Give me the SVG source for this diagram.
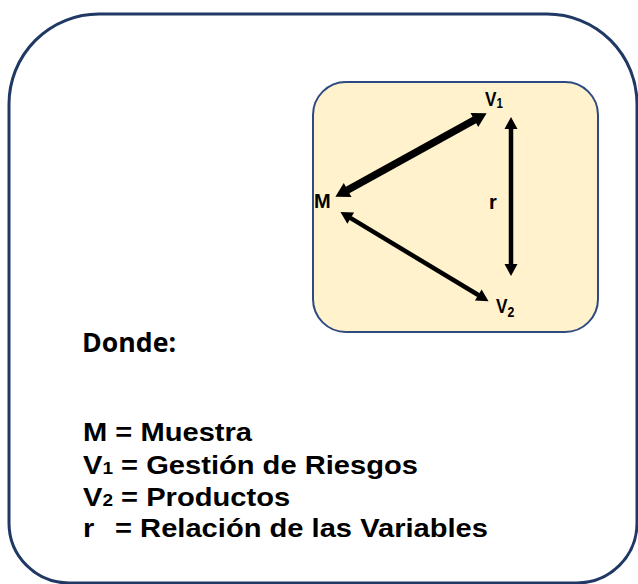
<svg xmlns="http://www.w3.org/2000/svg" width="638" height="584" viewBox="0 0 638 584">
<style>
  .frame { fill: #ffffff; stroke: #1f3864; stroke-width: 3; }
  .panel { fill: #fff2cc; stroke: #2f4a7f; stroke-width: 2; }
  .lbl { font-family: "Liberation Sans", Arial, sans-serif; font-weight: bold; fill: #000; }
  .leg { font-family: "Liberation Sans", Arial, sans-serif; font-weight: bold; font-size: 26px; fill: #000; }
  .donde { font-family: "Open Sans", "Liberation Sans", sans-serif; font-weight: bold; font-size: 27px; fill: #000; }
  .conn { stroke: #000; fill: none; }
</style>
<defs>
  <marker id="headL" markerUnits="userSpaceOnUse" markerWidth="15" markerHeight="16" refX="0.5" refY="8" orient="auto-start-reverse" overflow="visible">
    <path d="M0,0 L14,8 L0,16 Z" fill="#000"/>
  </marker>
  <marker id="headS" markerUnits="userSpaceOnUse" markerWidth="13" markerHeight="13" refX="0.5" refY="6.5" orient="auto-start-reverse" overflow="visible">
    <path d="M0,0 L12,6.5 L0,13 Z" fill="#000"/>
  </marker>
</defs>

<g id="frame">
  <path class="frame" d="M99,14 H547 A90,90 0 0 1 637,104 V523 A60,60 0 0 1 577,583 H69 A60,60 0 0 1 9,523 V104 A90,90 0 0 1 99,14 Z"/>
</g>

<g id="panel">
  <rect class="panel" x="313" y="82" width="285" height="250" rx="33" ry="33"/>
</g>

<g id="connectors">
  <line class="conn" x1="347.2" y1="190.2" x2="474.8" y2="119.8" stroke-width="7.5" marker-start="url(#headL)" marker-end="url(#headL)"/>
  <line class="conn" x1="350.3" y1="217.9" x2="478.7" y2="295.3" stroke-width="4.5" marker-start="url(#headS)" marker-end="url(#headS)"/>
  <line class="conn" x1="511" y1="128.5" x2="511" y2="264.5" stroke-width="4.5" marker-start="url(#headS)" marker-end="url(#headS)"/>
</g>

<g id="node-M">
  <text class="lbl" x="314" y="208" font-size="20">M</text>
</g>
<g id="node-V1">
  <text class="lbl" transform="translate(485,105.5) scale(0.82,1)" x="0" y="0" font-size="21">V<tspan font-size="14" dy="2">1</tspan></text>
</g>
<g id="node-V2">
  <text class="lbl" transform="translate(496,313) scale(0.82,1)" x="0" y="0" font-size="21">V<tspan font-size="15" dy="4">2</tspan></text>
</g>
<g id="label-r">
  <text class="lbl" x="489" y="209" font-size="20">r</text>
</g>

<g id="legend">
  <text class="donde" x="82" y="352" textLength="94" lengthAdjust="spacingAndGlyphs">Donde:</text>
  <text class="leg" transform="translate(83,441) scale(1.12,1)" x="0" y="0">M = Muestra</text>
  <text class="leg" transform="translate(83,474) scale(1.12,1)" x="0" y="0">V<tspan font-size="17">1</tspan> = Gestión de Riesgos</text>
  <text class="leg" transform="translate(83,506) scale(1.12,1)" x="0" y="0">V<tspan font-size="17">2</tspan> = Productos</text>
  <text class="leg" transform="translate(83,537) scale(1.12,1)" x="0" y="0">r<tspan x="28.6">= Relación de las Variables</tspan></text>
</g>
</svg>
